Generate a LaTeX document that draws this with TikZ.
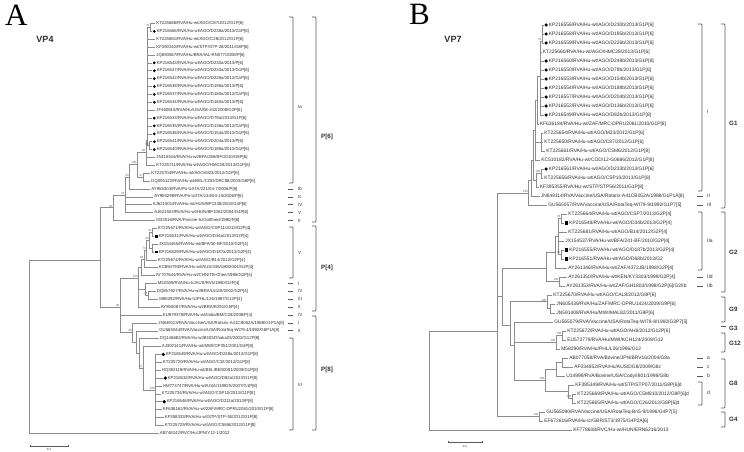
\documentclass[tikz,border=0pt]{standalone}
\usepackage{fontspec}
\setmainfont{Liberation Sans}
\newfontfamily\serifA{Liberation Serif}
\usetikzlibrary{shapes.geometric}
\definecolor{brc}{HTML}{8C8C8C}
\definecolor{txc}{HTML}{2E2E2E}
\definecolor{bkc}{HTML}{5A5A5A}
\tikzset{
 br/.style={draw=brc, line width=0.6pt},
 ltxt/.style={anchor=west, inner sep=0pt, font=\fontsize{4.3}{5}\selectfont, text=txc},
 rtxt/.style={anchor=west, inner sep=0pt, font=\fontsize{4.9}{6}\selectfont, text=txc},
 bs/.style={anchor=south east, inner sep=0.4pt, font=\fontsize{3}{3.5}\selectfont, text=black!60},
 mdot/.style={circle, fill=black, inner sep=0pt, minimum size=3pt},
 msq/.style={rectangle, fill=black, inner sep=0pt, minimum size=2.8pt},
 mdia/.style={diamond, fill=black, inner sep=0pt, minimum size=3.8pt},
 mdotR/.style={circle, fill=black, inner sep=0pt, minimum size=3.5pt},
 msqR/.style={rectangle, fill=black, inner sep=0pt, minimum size=3.2pt},
 brk/.style={draw=bkc, line width=0.7pt, rounded corners=0.8pt},
 sublab/.style={anchor=west, inner sep=0pt, font=\fontsize{4.6}{5}\selectfont, text=txc},
 sublabR/.style={anchor=west, inner sep=0pt, font=\fontsize{5}{6}\selectfont, text=txc},
 mainlab/.style={anchor=west, inner sep=0pt, font=\bfseries\fontsize{6.2}{7}\selectfont, text=txc},
 sbar/.style={draw=bkc, line width=0.5pt},
 sbtxt/.style={inner sep=0pt, font=\fontsize{3}{3.5}\selectfont, text=txc},
}
\newcommand\LeafL[3]{%
  \pgfmathsetmacro\yy{23.5+7.88*(#1-1)}%
  \coordinate (L#1) at (#2,\yy);
  \node[ltxt] (tL#1) at ([xshift=1.2pt]L#1) {#3};}
\newcommand\LeafLm[4]{%
  \pgfmathsetmacro\yy{23.5+7.88*(#1-1)}%
  \coordinate (L#1) at (#2,\yy);
  \node[#3] (mL#1) at ([xshift=2.3pt]L#1) {};
  \node[ltxt] (tL#1) at ([xshift=4.6pt]L#1) {#4};}
\newcommand\LeafR[3]{%
  \pgfmathsetmacro\yy{25+9*(#1-1)}%
  \coordinate (R#1) at (#2,\yy);
  \node[rtxt] (tR#1) at ([xshift=1.2pt]R#1) {#3};}
\newcommand\LeafRm[4]{%
  \pgfmathsetmacro\yy{25+9*(#1-1)}%
  \coordinate (R#1) at (#2,\yy);
  \node[#3] (mR#1) at ([xshift=2.6pt]R#1) {};
  \node[rtxt] (tR#1) at ([xshift=5.2pt]R#1) {#4};}
\newcommand\edg[2]{\foreach \ch in {#2}{\draw[br] (#1) |- (\ch);}}
\newcommand\bsl[2]{\node[bs] (b#1) at (#1) {#2};}
\newcommand\brkt[3]{\draw[brk] (#1-4,#2) -- (#1,#2) -- (#1,#3) -- (#1-4,#3);}
\newcommand\tck[3]{\draw[brk] (#1,#3) -- (#2,#3);}
\begin{document}
\begin{tikzpicture}[x=1pt,y=-1pt]
\fill[white] (0,0) rectangle (744,452);
\useasboundingbox (0,0) rectangle (744,452);

% titles
\node[anchor=base west, inner sep=0pt, font=\serifA\fontsize{31}{31}\selectfont] (lblA) at (5,26) {A};
\node[anchor=base west, inner sep=0pt, font=\serifA\fontsize{31}{31}\selectfont] (lblB) at (409,25) {B};
\node[font=\bfseries\fontsize{9}{10}\selectfont, inner sep=0pt, text=txc] (vp4) at (45,39) {VP4};
\node[font=\bfseries\fontsize{9}{10}\selectfont, inner sep=0pt, text=txc] (vp7) at (453,39) {VP7};

% ---------------- left leaves ----------------
\LeafL{1}{155}{KT225686/RVA/Hu-wt/AGO/C87/2012/G1P[6]}
\LeafLm{2}{152}{mdot}{KP216566/RVA/Hu-wt/AGO/D238a/2013/G1P[6]}
\LeafL{3}{155}{KT225681/RVA/Hu-wt/AGO/C26/2012/G1P[6]}
\LeafL{4}{155}{KF390342/RVA/Hu-wt/STP/STP-28/2011/G8P[6]}
\LeafL{5}{155}{JQ693567/RVA/Hu/BRA/IAL-RN077/2008/P[6]}
\LeafLm{6}{152}{mdot}{KP216543/RVA/Hu-wt/AGO/D230a/2013/P[6]}
\LeafLm{7}{152}{mdot}{KP216547/RVA/Hu-wt/AGO/D233a/2013/G1P[6]}
\LeafLm{8}{152}{mdot}{KP216542/RVA/Hu-wt/AGO/D226a/2013/G1P[6]}
\LeafLm{9}{152}{mdot}{KP216538/RVA/Hu-wt/AGO/D195a/2013/P[6]}
\LeafLm{10}{152}{mdot}{KP216537/RVA/Hu-wt/AGO/D180a/2013/G1P[6]}
\LeafLm{11}{152}{mdot}{KP216534/RVA/Hu-wt/AGO/D160a/2013/P[6]}
\LeafL{12}{155}{JF460815/RVA/Hu/USA/08-242/2008/G2P[6]}
\LeafLm{13}{152}{mdot}{KP216533/RVA/Hu-wt/AGO/D79a/2013/G1P[6]}
\LeafLm{14}{152}{mdot}{KP216535/RVA/Hu-wt/AGO/D136a/2013/G1P[6]}
\LeafLm{15}{152}{mdot}{KP216536/RVA/Hu-wt/AGO/D154a/2013/G1P[6]}
\LeafLm{16}{152}{mdot}{KP216541/RVA/Hu-wt/AGO/D204a/2013/P[6]}
\LeafLm{17}{152}{mdot}{KP216540/RVA/Hu-wt/AGO/D188a/2013/G1P[6]}
\LeafL{18}{155}{JN116516/RVA/Hu-wt/BFA/268/BF/2010/G8P[6]}
\LeafL{19}{155}{KT225711/RVA/Hu-wt/AGO/HMC28/2013/G1P[6]}
\LeafL{20}{150}{KT225704/RVA/Hu-wt/AGO/M23/2012/G1P[6]}
\LeafL{21}{150}{DQ005122/RVA/Hu-wt/BEL/COD/DRC88/2003/G8P[6]}
\LeafL{22}{150}{AY955303/RVA/Po-tc/ITA/221/04-7/2006/P[6]}
\LeafL{23}{153}{AY955298/RVA/Po-tc/ITA/134/04-15/2006/P[6]}
\LeafL{24}{151.5}{AJ621501/RVA/Hu-wt/HUN/BP1338/2004/G4P[6]}
\LeafL{25}{153}{AJ621503/RVA/Hu-wt/HUN/BP1062/2004/G4P[6]}
\LeafL{26}{155}{M33516/RVA/Porcine-tc/Gottfried/1980/P[6]}
\LeafL{27}{156.5}{KT225671/RVA/Hu-wt/AGO/CSP11/2013/G2P[4]}
\LeafLm{28}{154}{msq}{KP216531/RVA/Hu-wt/AGO/D34a/2013/G2P[4]}
\LeafL{29}{157.5}{JX154455/RVA/Hu-wt/BFA/30-BF/2010/G2P[4]}
\LeafLm{30}{154}{msq}{KP216529/RVA/Hu-wt/AGO/D187a/2013/G2P[4]}
\LeafL{31}{156.5}{KT225674/RVA/Hu-wt/AGO/B14/2012/G2P[4]}
\LeafL{32}{157.5}{KC894793/RVA/Hu-wt/AUS/336/180/2004/G2P[4]}
\LeafL{33}{154.5}{AY707644/RVA/Hu-wt/CHN/TB-Chen/1996/G2P[4]}
\LeafL{34}{156.5}{M32559/RVA/Hu-tc/AUS/RV5/1980/G2P[4]}
\LeafL{35}{155.5}{DQ857927/RVA/Hu-wt/BRA/L6119/2002/G2P[4]}
\LeafL{36}{158}{M86292/RVA/Hu-tc/PHL/L26/1987/G12P[4]}
\LeafL{37}{159.5}{AY855087/RVA/Hu-wt/BRA/R291/G5P[4]}
\LeafL{38}{161.5}{EU979378/RVA/Hu-wt/India/BM/C28/2008/P[4]}
\LeafL{39}{157}{JN849113/RVA/Vaccine/USA/Rotarix-A41CB052A/1988/G1P1A[8]}
\LeafL{40}{158}{GU565044/RVA/Vaccine/USA/RotaTeq-WI79-4/1992/G6P1A[8]}
\LeafL{41}{158.5}{DQ146682/RVA/Hu-wt/BGD/Dhaka25/2002/G12P[8]}
\LeafL{42}{160.5}{AJ302141/RVA/Hu-wt/MWI/OP351/2001/G4P[8]}
\LeafLm{43}{161}{mdia}{KP216549/RVA/Hu-wt/AGO/D248a/2013/G1P[8]}
\LeafL{44}{161.5}{KT225720/RVA/Hu-wt/AGO/C32/2012/G1P[8]}
\LeafL{45}{160.5}{HQ392119/RVA/Hu-wt/BEL/BE00081/2009/G1P[8]}
\LeafLm{46}{163}{mdia}{KP216532/RVA/Hu-wt/AGO/D82a/2013/G1P[8]}
\LeafL{47}{161.5}{HM773747/RVA/Hu-wt/USA/11982S/2007/G1P[8]}
\LeafL{48}{160.5}{KT225734/RVA/Hu-wt/AGO/CSP10/2013/G1P[8]}
\LeafLm{49}{162}{mdia}{KP216546/RVA/Hu-wt/AGO/D211a/2013/P[8]}
\LeafL{50}{161.5}{KF636162/RVA/Hu-wt/ZAF/MRC-DPRU2061/2010/G1P[8]}
\LeafL{51}{163.5}{KF358333/RVA/Hu-wt/STP/STP-36/2012/G1P[8]}
\LeafL{52}{163.5}{KT225729/RVA/Hu-wt/AGO/C5M6/2012/G1P[8]}
\LeafL{53}{158.5}{AB748142/RVC/Hu/JPN/Y12-1/2012}

% left internal nodes
\coordinate (Ntop) at (150,27.44);
\coordinate (Na) at (149.5,145.64);
\coordinate (Nb) at (147.5,140);
\coordinate (Nc) at (146,152);
\coordinate (N97) at (143.5,177.16);
\coordinate (N100) at (137,164.6);
\coordinate (N93) at (129.5,176.8);
\coordinate (N79) at (125,195);
\coordinate (N92) at (113,207.7);
\coordinate (Nv1) at (152,232.32);
\coordinate (Nv2) at (152.5,248.08);
\coordinate (Nv12) at (149.5,240.2);
\coordinate (Nv3) at (146.5,250.05);
\coordinate (Nv4) at (144,258.9);
\coordinate (NV) at (141,267.3);
\coordinate (N3536) at (148,295.36);
\coordinate (N34) at (145,289.45);
\coordinate (NP4) at (138.5,278.4);
\coordinate (NIII) at (155.5,389.9);
\coordinate (N71) at (143,368.2);
\coordinate (N41) at (139.5,353.5);
\coordinate (Nx) at (136,342.2);
\coordinate (NP8) at (132.5,332.6);
\coordinate (NP4P8) at (120,307);
\coordinate (Nin) at (100,260);
\coordinate (Rt) at (29,346);

\edg{Ntop}{L1,L2}
\edg{Na}{L16,L17}
\edg{Nb}{Ntop,L3,L4,L5,L6,L7,L8,L9,L10,L11,L12,L13,L14,L15,Na}
\edg{Nc}{Nb,L18,L19}
\edg{N97}{L20,L21}
\edg{N100}{Nc,N97}
\edg{N93}{N100,L22}
\edg{N79}{N93,L23,L24,L25}
\edg{N92}{N79,L26}
\edg{Nv1}{L27,L28}
\edg{Nv2}{L29,L30}
\edg{Nv12}{Nv1,Nv2}
\edg{Nv3}{Nv12,L31}
\edg{Nv4}{Nv3,L32}
\edg{NV}{Nv4,L33}
\edg{N3536}{L35,L36}
\edg{N34}{L34,N3536}
\edg{NP4}{NV,N34,L37}
\edg{NIII}{L43,L44,L45,L46,L47,L48,L49,L50,L51,L52}
\edg{N71}{L42,NIII}
\edg{N41}{L41,N71}
\edg{Nx}{L40,N41}
\edg{NP8}{L39,Nx}
\edg{NP4P8}{NP4,L38,NP8}
\edg{Nin}{N92,NP4P8}
\edg{Rt}{Nin,L53}

\bsl{Ntop}{76}\bsl{Na}{99}\bsl{Nc}{88}\bsl{N97}{97}\bsl{N100}{100}
\bsl{N93}{93}\bsl{N79}{79}\bsl{N92}{92}\bsl{Nv1}{91}\bsl{Nv12}{93}
\bsl{Nv3}{73}\bsl{Nv4}{84}\bsl{N3536}{74}\bsl{NP4}{100}\bsl{NIII}{100}
\bsl{N71}{71}\bsl{NP8}{99}\bsl{NP4P8}{99}

% left brackets
\brkt{293}{17}{183}
\node[sublab] (bIa) at (298,107) {Ia};
\tck{287.5}{293}{189} \node[sublab] (bIb) at (298,189) {Ib};
\tck{287.5}{293}{196.9} \node[sublab] (bIc) at (298,196.9) {Ic};
\tck{287.5}{293}{204.7} \node[sublab] (bIV1) at (298,204.7) {IV};
\tck{287.5}{293}{212.6} \node[sublab] (bV1) at (298,212.6) {V};
\tck{287.5}{293}{220.5} \node[sublab] (bII1) at (298,220.5) {II};
\brkt{316}{17}{222}
\node[mainlab] (bP6) at (321,137) {P[6]};
\brkt{293}{227}{278}
\node[sublab] (bV2) at (298,253) {V};
\tck{287.5}{293}{283.5} \node[sublab] (bI2) at (298,283.5) {I};
\tck{287.5}{293}{291.4} \node[sublab] (bIV2) at (298,291.4) {IV};
\tck{287.5}{293}{299.3} \node[sublab] (bIII2) at (298,299.3) {III};
\tck{287.5}{293}{307.2} \node[sublab] (bII2) at (298,307.2) {II};
\tck{287.5}{293}{315} \node[sublab] (bIV3) at (298,315) {IV};
\brkt{316}{226}{311}
\node[mainlab] (bP4) at (321,268) {P[4]};
\brkt{316}{316}{430}
\node[mainlab] (bP8) at (321,370) {P[8]};
\tck{287.5}{293}{322.9} \node[sublab] (bI3) at (298,322.9) {I};
\tck{287.5}{293}{330.8} \node[sublab] (bII3) at (298,330.8) {II};
\brkt{293}{338}{430}
\node[sublab] (bIII3) at (298,385) {III};

% left scale bar
\coordinate (sbL1) at (30,446); \coordinate (sbL2) at (68,446);
\draw[sbar] (sbL1) -- (sbL2);
\draw[sbar] ([yshift=1.2pt]sbL1) -- ([yshift=-1.2pt]sbL1);
\draw[sbar] ([yshift=1.2pt]sbL2) -- ([yshift=-1.2pt]sbL2);
\node[sbtxt] (sbLt) at (49,449.8) {0.1};

% ---------------- right leaves ----------------
\LeafRm{1}{543.5}{mdotR}{KP216556/RVA/Hu-wt/AGO/D230b/2013/G1P[6]}
\LeafRm{2}{543.5}{mdotR}{KP216558/RVA/Hu-wt/AGO/D195b/2013/G1P[6]}
\LeafRm{3}{543.5}{mdotR}{KP216559/RVA/Hu-wt/AGO/D226b/2013/G1P[6]}
\LeafR{4}{541.5}{KT225660/RVA/Hu-wt/AGO/HMC28/2013/G1P[6]}
\LeafRm{5}{543.5}{mdotR}{KP216560/RVA/Hu-wt/AGO/D248b/2013/G1P[8]}
\LeafRm{6}{543.5}{mdotR}{KP216550/RVA/Hu-wt/AGO/D79b/2013/G1P[6]}
\LeafRm{7}{543.5}{mdotR}{KP216553/RVA/Hu-wt/AGO/D154b/2013/G1P[6]}
\LeafRm{8}{543.5}{mdotR}{KP216554/RVA/Hu-wt/AGO/D188b/2013/G1P[6]}
\LeafRm{9}{543.5}{mdotR}{KP216557/RVA/Hu-wt/AGO/D204b/2013/G1P[6]}
\LeafRm{10}{543.5}{mdotR}{KP216552/RVA/Hu-wt/AGO/D136b/2013/G1P[6]}
\LeafRm{11}{543.5}{mdotR}{KP216549/RVA/Hu-wt/AGO/D82b/2013/G1P[8]}
\LeafR{12}{538.5}{KF636184/RVA/Hu-wt/ZAF/MRC-DPRU2061/2010/G1P[8]}
\LeafR{13}{543}{KT225654/RVA/Hu-wt/AGO/M23/2012/G1P[6]}
\LeafR{14}{543}{KT225650/RVA/Hu-wt/AGO/C87/2012/G1P[6]}
\LeafR{15}{545}{KT225661/RVA/Hu-wt/AGO/C5M6/2012/G1P[8]}
\LeafR{16}{540}{KC510182/RVA/Hu-wt/COD/12-G0686/2012/G1P[8]}
\LeafRm{17}{543.5}{mdotR}{KP216561/RVA/Hu-wt/AGO/D233b/2013/G1P[6]}
\LeafR{18}{543}{KT225656/RVA/Hu-wt/AGO/CSP10/2013/G1P[8]}
\LeafR{19}{538.5}{KF395355/RVA/Hu-wt/STP/STP56/2011/G1P[8]}
\LeafR{20}{539.5}{JN849114/RVA/Vaccine/USA/Rotarix-A41CB052A/1988/G1P1A[8]}
\LeafR{21}{547}{GU565057/RVA/Vaccine/USA/RotaTeq-WI79-9/1992/G1P7[5]}
\LeafR{22}{567}{KT225664/RVA/Hu-wt/AGO/CSP7/2013/G2P[4]}
\LeafRm{23}{564}{msqR}{KP216548/RVA/Hu-wt/AGO/D34b/2013/G2P[4]}
\LeafR{24}{567}{KT225681/RVA/Hu-wt/AGO/B14/2012/G2P[4]}
\LeafR{25}{564}{JX154537/RVA/Hu-wt/BFA/241-BF/2010/G2P[4]}
\LeafRm{26}{564}{msqR}{KP216555/RVA/Hu-wt/AGO/D187b/2013/G2P[4]}
\LeafRm{27}{564}{msqR}{KP216551/RVA/Hu-wt/AGO/D68b/2013/G2}
\LeafR{28}{567}{AY261346/RVA/Hu-wt/ZAF/4372JB/1998/G2P[4]}
\LeafR{29}{567}{AY261350/RVA/Hu-wt/KEN/KY3303/1999/G2P[4]}
\LeafR{30}{565}{AY261353/RVA/Hu-wt/ZAF/GH1803/1998/G2P[6]/G2IIb}
\LeafR{31}{552}{KT225670/RVA/Hu-wt/AGO/CAL8/2012/G9P[6]}
\LeafR{32}{555}{JN605439/RVA/Hu/ZAF/MRC-DPRU1424/2009/G9P[6]}
\LeafR{33}{555}{JN591408/RVA/Hu/MWI/MAL82/2011/G9P[6]}
\LeafR{34}{553}{GU565079/RVA/Vaccine/USA/RotaTeq-WI78-8/1992/G3P7[5]}
\LeafR{35}{566}{KT225672/RVA/Hu-wt/AGO/AH8/2012/G12P[6]}
\LeafR{36}{566}{EU573779/RVA/Hu/MWI/KCH124/2009/G12}
\LeafR{37}{560}{M58290/RVA/Hu/PHL/L26/1996/G12}
\LeafR{38}{568}{AB077058/RVA/Bovine/JPN/BRV16/2004/G8a}
\LeafR{39}{573}{AF034852/RVA/Hu/AUS/DG8/2009/G8c}
\LeafR{40}{565}{U14999/RVA/Bovine/USA/Cody/I801/1998/G8b}
\LeafR{41}{574}{KF385349/RVA/Hu-wt/STP/STP07/2011/G8P[6]d}
\LeafR{42}{576}{KT225669/RVA/Hu-wt/AGO/C5M810/2012/G8P[6]d}
\LeafR{43}{576}{KT225665/RVA/Hu-wt/AGO/C26/2012/G8P[6]d}
\LeafR{44}{545}{GU565090/RVA/Vaccine/USA/RotaTeq-Bri5-9/1996/G4P7[5]}
\LeafR{45}{543}{EF672616/RVA/Hu-tc/GBR/ST3/1975/G4P2A[6]}
\LeafR{46}{572}{KF778608/RVC/Hu-wt/HUN/ERN6216/2013}

% right internal nodes
\coordinate (c70) at (542,41);
\coordinate (cA) at (540.5,76);
\coordinate (cB) at (537,100);
\coordinate (cC) at (541,142);
\coordinate (cD) at (535.5,130);
\coordinate (c17) at (541,173.5);
\coordinate (cE) at (536,180);
\coordinate (cI) at (533.5,160);
\coordinate (cG1) at (531.5,180);
\coordinate (cG1b) at (528.5,193);
\coordinate (g2a) at (561,218.5);
\coordinate (g2b) at (561,254.5);
\coordinate (g2c) at (558,236.5);
\coordinate (g2d) at (555.5,252);
\coordinate (g2e) at (559,281.5);
\coordinate (G2n) at (546,268);
\coordinate (g9a) at (550,308.5);
\coordinate (g9) at (547,301.75);
\coordinate (g12a) at (562,335.5);
\coordinate (g12) at (556,342);
\coordinate (g8ab) at (562,362.5);
\coordinate (g8x) at (556,369);
\coordinate (g8d1) at (572,398.5);
\coordinate (g8d) at (568,391.75);
\coordinate (g8) at (545,380);
\coordinate (g4) at (539,416.5);
\coordinate (b1) at (514,345);
\coordinate (b2) at (510.5,325);
\coordinate (b3) at (502.5,296);
\coordinate (An) at (497,331);
\coordinate (Rt2) at (429,380);

\edg{c70}{R1,R2,R3}
\edg{cA}{c70,R4,R5,R6,R7,R8,R9,R10,R11}
\edg{cB}{cA,R12}
\edg{cC}{R13,R14,R15}
\edg{cD}{cB,cC,R16}
\edg{c17}{R17,R18}
\edg{cE}{c17,R19}
\edg{cI}{cD,cE}
\edg{cG1}{cI,R20}
\edg{cG1b}{cG1,R21}
\edg{g2a}{R22,R23}
\edg{g2b}{R26,R27}
\edg{g2c}{g2a,R24,R25,g2b}
\edg{g2d}{g2c,R28}
\edg{g2e}{R29,R30}
\edg{G2n}{g2d,g2e}
\edg{g9a}{R32,R33}
\edg{g9}{R31,g9a}
\edg{g12a}{R35,R36}
\edg{g12}{g12a,R37}
\edg{g8ab}{R38,R39}
\edg{g8x}{g8ab,R40}
\edg{g8d1}{R42,R43}
\edg{g8d}{R41,g8d1}
\edg{g8}{g8x,g8d}
\edg{g4}{R44,R45}
\edg{b1}{R34,g12,g8}
\edg{b2}{g9,b1}
\edg{b3}{G2n,b2}
\edg{An}{cG1b,b3,g4}
\edg{Rt2}{An,R46}

\bsl{c70}{70}\bsl{c17}{100}\bsl{cG1b}{100}\bsl{g2a}{70}\bsl{g2b}{90}
\bsl{g2e}{100}\bsl{g9}{100}\bsl{g12a}{100}\bsl{g12}{100}\bsl{g8d1}{100}
\bsl{g8}{100}\bsl{g4}{100}

% right brackets
\brkt{702}{24}{191}
\node[sublabR] (rI) at (707,112) {I};
\tck{697}{703}{196} \node[sublabR] (rII) at (707,196) {II};
\tck{697}{703}{205} \node[sublabR] (rIII) at (707,205) {III};
\brkt{725}{24}{208}
\node[mainlab] (rG1) at (729,123) {G1};
\brkt{702}{212}{270}
\node[sublabR] (rIIa) at (707,241) {IIa};
\tck{697}{703}{277} \node[sublabR] (rIId) at (707,277) {IId};
\tck{697}{703}{286} \node[sublabR] (rIIb) at (707,286) {IIb};
\brkt{725}{212}{292}
\node[mainlab] (rG2) at (729,252) {G2};
\brkt{725}{297}{322}
\node[mainlab] (rG9) at (729,309) {G9};
\tck{720.5}{725.5}{326}
\node[mainlab] (rG3) at (729,328) {G3};
\brkt{725}{333}{352}
\node[mainlab] (rG12) at (729,343) {G12};
\tck{697}{703}{358} \node[sublabR] (ra) at (707,358) {a};
\tck{697}{703}{367} \node[sublabR] (rc) at (707,367) {c};
\tck{697}{703}{376} \node[sublabR] (rb) at (707,376) {b};
\brkt{702}{382}{405}
\node[sublabR] (rd) at (707,393) {d};
\brkt{725}{359}{408}
\node[mainlab] (rG8) at (729,383) {G8};
\brkt{725}{412}{427}
\node[mainlab] (rG4) at (729,419) {G4};

% right scale bar
\coordinate (sbR1) at (448,442); \coordinate (sbR2) at (482,442);
\draw[sbar] (sbR1) -- (sbR2);
\draw[sbar] ([yshift=1.2pt]sbR1) -- ([yshift=-1.2pt]sbR1);
\draw[sbar] ([yshift=1.2pt]sbR2) -- ([yshift=-1.2pt]sbR2);
\node[sbtxt] (sbRt) at (465,446.5) {0.1};
\end{tikzpicture}
\end{document}
